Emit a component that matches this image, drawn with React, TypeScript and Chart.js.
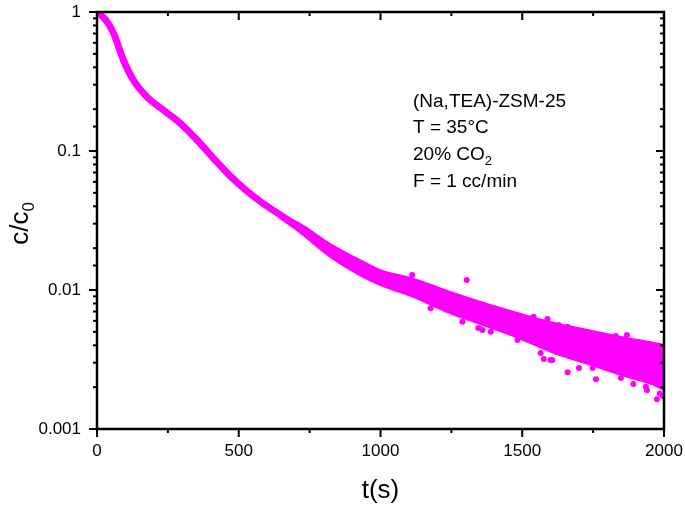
import React, { useEffect, useRef } from 'react';
import { Chart, registerables } from 'chart.js';

Chart.register(...registerables);

// ---- data ----
const centerT = [0, 30, 58, 93, 128, 176, 234, 293, 353, 410, 470, 530, 586, 706, 823, 939, 999, 1116, 1236, 1352, 1469, 1610, 1730, 1846, 2000];
const centerC = [1.0, 0.88, 0.706, 0.452, 0.324, 0.245, 0.197, 0.159, 0.12, 0.089, 0.066, 0.0512, 0.0419, 0.0289, 0.0194, 0.01416, 0.01241, 0.01025, 0.00833, 0.00684, 0.00569, 0.00452, 0.00383, 0.00327, 0.0027];

const bandT = [640, 707, 823, 940, 1000, 1117, 1236, 1353, 1470, 1612, 1731, 1848, 1965, 2000];
const bandUpper = [0.0345, 0.0306, 0.0214, 0.0159, 0.0139, 0.012, 0.00984, 0.0082, 0.00695, 0.00579, 0.00516, 0.00459, 0.00416, 0.00402];
const bandLower = [0.0335, 0.0268, 0.0173, 0.0124, 0.01086, 0.00891, 0.00695, 0.00569, 0.00467, 0.00352, 0.00294, 0.00245, 0.00207, 0.00191];

const scatterT = [1112, 1304, 1345, 1360, 1565, 1576, 1600, 1660, 1700, 1760, 1892, 1975, 1996, 1869, 1589, 1628, 1940, 1985,
  1540, 1661, 1830, 1606, 1748, 1848, 1936, 1212, 1312, 1389, 1442, 1177, 1289, 1389, 1483];
const scatterC = [0.0128, 0.0118, 0.00533, 0.00515, 0.00352, 0.00319, 0.00313, 0.00256, 0.00275, 0.00228, 0.00211, 0.00164, 0.00173, 0.00475, 0.00618, 0.0056, 0.0019, 0.0018,
  0.00642, 0.00542, 0.00467, 0.00314, 0.00275, 0.00233, 0.00201, 0.00973, 0.00824, 0.00738, 0.0068, 0.00738, 0.00591, 0.00501, 0.00437];

const xTickValues = [0, 500, 1000, 1500, 2000];
const xTickLabels = ['0', '500', '1000', '1500', '2000'];
const yTickValues = [0.001, 0.01, 0.1, 1];
const yTickLabels = ['0.001', '0.01', '0.1', '1'];

const annotationLines = ['(Na,TEA)-ZSM-25', 'T = 35°C', '20% CO', 'F = 1 cc/min'];

const MAGENTA = '#FF00FF';
const FONT = 'Arial, "Liberation Sans", sans-serif';

const pts = (xs: number[], ys: number[]) => xs.map((x, i) => ({ x, y: ys[i] }));

const isDecade = (v: number) => {
  const l = Math.log10(v);
  return Math.abs(l - Math.round(l)) < 1e-6;
};

const framePlugin = {
  id: 'framePlugin',
  afterDraw(chart: any) {
    const { ctx, chartArea: a, scales } = chart;
    const xs = scales.x;
    const ys = scales.y;
    ctx.save();
    ctx.strokeStyle = '#000';
    ctx.lineCap = 'butt';
    const seg = (x1: number, y1: number, x2: number, y2: number) => {
      ctx.beginPath();
      ctx.moveTo(x1, y1);
      ctx.lineTo(x2, y2);
      ctx.stroke();
    };
    ctx.lineWidth = 2;
    xs.ticks.forEach((tk: any) => {
      const px = xs.getPixelForValue(tk.value);
      const major = xTickValues.includes(tk.value);
      const len = major ? 8 : 4;
      seg(px, a.bottom, px, a.bottom + len);
      seg(px, a.top, px, a.top + len);
    });
    ys.ticks.forEach((tk: any) => {
      const py = ys.getPixelForValue(tk.value);
      const major = isDecade(tk.value);
      const len = major ? 8 : 4;
      seg(a.left - len, py, a.left, py);
      seg(a.right - len, py, a.right, py);
    });
    ctx.lineWidth = 2.5;
    ctx.strokeRect(a.left, a.top, a.right - a.left, a.bottom - a.top);

    // axis titles
    ctx.fillStyle = '#000';
    ctx.textBaseline = 'alphabetic';
    ctx.font = `26px ${FONT}`;
    ctx.textAlign = 'center';
    ctx.fillText('t(s)', (a.left + a.right) / 2, 498);

    // y title with subscript, rotated
    ctx.save();
    ctx.translate(28, (a.top + a.bottom) / 2 + 3);
    ctx.rotate(-Math.PI / 2);
    ctx.font = `26px ${FONT}`;
    const main = 'c/c';
    const wMain = ctx.measureText(main).width;
    ctx.font = `17px ${FONT}`;
    const wSub = ctx.measureText('0').width;
    const start = -(wMain + wSub) / 2;
    ctx.textAlign = 'left';
    ctx.font = `26px ${FONT}`;
    ctx.fillText(main, start, 0);
    ctx.font = `17px ${FONT}`;
    ctx.fillText('0', start + wMain, 6);
    ctx.restore();

    // annotation
    ctx.textAlign = 'left';
    const ax = 413;
    const baselines = [107, 133, 160, 187];
    annotationLines.forEach((t, i) => {
      ctx.font = `19px ${FONT}`;
      ctx.fillText(t, ax, baselines[i]);
      if (i === 2) {
        const w = ctx.measureText(t).width;
        ctx.font = `13px ${FONT}`;
        ctx.fillText('2', ax + w, baselines[i] + 5);
      }
    });
    ctx.restore();
  },
};

const zeroPad = (s: any) => {
  s.paddingTop = 0;
  s.paddingBottom = 0;
  s.paddingLeft = 0;
  s.paddingRight = 0;
};

export default function App() {
  const ref = useRef<HTMLCanvasElement | null>(null);

  useEffect(() => {
    document.body.style.margin = '0';
    const canvas = ref.current;
    if (!canvas) return;
    const chart = new Chart(canvas, {
      type: 'line',
      data: {
        datasets: [
          {
            label: 'lower',
            data: pts(bandT, bandLower),
            borderColor: MAGENTA,
            backgroundColor: MAGENTA,
            borderWidth: 2,
            pointRadius: 0,
            fill: false,
            cubicInterpolationMode: 'monotone',
          },
          {
            label: 'upper',
            data: pts(bandT, bandUpper),
            borderColor: MAGENTA,
            backgroundColor: MAGENTA,
            borderWidth: 2,
            pointRadius: 0,
            fill: '-1',
            cubicInterpolationMode: 'monotone',
          },
          {
            label: 'c/c0',
            data: pts(centerT, centerC),
            borderColor: MAGENTA,
            backgroundColor: MAGENTA,
            borderWidth: 7,
            borderCapStyle: 'round',
            borderJoinStyle: 'round',
            pointRadius: 0,
            fill: false,
            cubicInterpolationMode: 'monotone',
          },
          {
            label: 'scatter',
            data: pts(scatterT, scatterC),
            showLine: false,
            borderColor: MAGENTA,
            backgroundColor: MAGENTA,
            pointRadius: 3,
            pointBorderWidth: 0,
            fill: false,
          },
        ],
      } as any,
      options: {
        animation: false,
        responsive: false,
        devicePixelRatio: 1,
        layout: { padding: { left: 0, top: 12, right: 21, bottom: 0 } },
        plugins: { legend: { display: false }, tooltip: { enabled: false } },
        scales: {
          x: {
            type: 'linear',
            min: 0,
            max: 2000,
            grid: { display: false, drawTicks: false },
            border: { display: false },
            ticks: {
              stepSize: 250,
              autoSkip: false,
              maxRotation: 0,
              padding: 12,
              color: '#000',
              font: { size: 17, family: FONT },
              callback: (v: any) => {
                const i = xTickValues.indexOf(Number(v));
                return i >= 0 ? xTickLabels[i] : '';
              },
            },
            afterFit: (s: any) => {
              s.height = 77;
              zeroPad(s);
            },
          },
          y: {
            type: 'logarithmic',
            min: 0.001,
            max: 1,
            grid: { display: false, drawTicks: false },
            border: { display: false },
            ticks: {
              autoSkip: false,
              padding: 16,
              color: '#000',
              font: { size: 17, family: FONT },
              callback: (v: any) => {
                const n = Number(v);
                const i = yTickValues.findIndex((t) => Math.abs(Math.log10(t) - Math.log10(n)) < 1e-6);
                return i >= 0 ? yTickLabels[i] : '';
              },
            },
            afterFit: (s: any) => {
              s.width = 97;
              zeroPad(s);
            },
          },
        },
      } as any,
      plugins: [framePlugin],
    });
    return () => chart.destroy();
  }, []);

  return (
    <canvas
      ref={ref}
      width={685}
      height={506}
      style={{ display: 'block', position: 'absolute', left: 0, top: 0, width: 685, height: 506 }}
    />
  );
}
